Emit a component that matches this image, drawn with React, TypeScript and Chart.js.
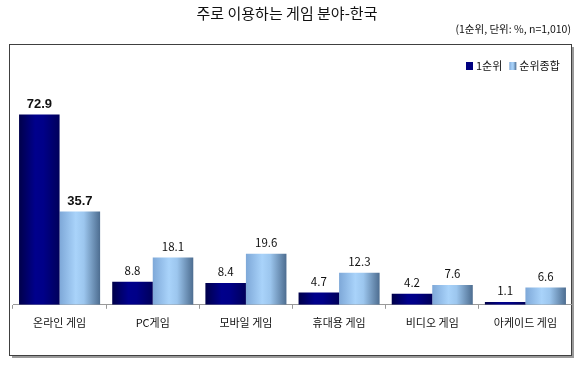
import React, { useEffect, useRef } from "react";
import { Chart, registerables } from "chart.js";

Chart.register(...registerables);

const titleText = "주로 이용하는 게임 분야-한국";
const noteText = "(1순위, 단위: %, n=1,010)";
const categories = ["온라인 게임", "PC게임", "모바일 게임", "휴대용 게임", "비디오 게임", "아케이드 게임"];
const seriesNames = ["1순위", "순위종합"];
const firstRank = [72.9, 8.8, 8.4, 4.7, 4.2, 1.1];
const overallRank = [35.7, 18.1, 19.6, 12.3, 7.6, 6.6];

const FONT = '"Noto Sans CJK KR", "Noto Sans", sans-serif';
const CAT_PCT = 0.87;

function gradFor(ctx: CanvasRenderingContext2D, x0: number, x1: number, dark: boolean) {
  const g = ctx.createLinearGradient(x0, 0, x1, 0);
  if (dark) {
    g.addColorStop(0, "#00004a");
    g.addColorStop(0.4, "#00008c");
    g.addColorStop(0.6, "#000088");
    g.addColorStop(1, "#00005a");
  } else {
    g.addColorStop(0, "#7ea8d8");
    g.addColorStop(0.4, "#a9d3fa");
    g.addColorStop(0.6, "#9cc6ee");
    g.addColorStop(1, "#4d6d90");
  }
  return g;
}

function barFill(c: any) {
  const chart = c.chart;
  const dark = c.datasetIndex === 0;
  const xs = chart.scales && chart.scales.x;
  if (!xs || !chart.chartArea || c.dataIndex == null) return dark ? "#000080" : "#8fbbe6";
  const catW = xs.width / categories.length;
  const groupW = catW * CAT_PCT;
  const barW = groupW / 2;
  const center = xs.getPixelForValue(c.dataIndex);
  const x0 = center - groupW / 2 + c.datasetIndex * barW;
  return gradFor(chart.ctx, x0, x0 + barW, dark);
}

const decorPlugin = {
  id: "decor",
  beforeDraw(chart: any) {
    const ctx = chart.ctx as CanvasRenderingContext2D;
    ctx.save();
    ctx.fillStyle = "#ffffff";
    ctx.fillRect(0, 0, chart.width, chart.height);
    // shadow
    ctx.fillStyle = "#9a9a9a";
    ctx.fillRect(12, 356, 562, 2);
    ctx.fillRect(572, 47, 2, 311);
    // frame
    ctx.strokeStyle = "#404040";
    ctx.lineWidth = 1;
    ctx.strokeRect(9.5, 44.5, 562, 311);
    // title
    ctx.fillStyle = "#111";
    ctx.font = `15px ${FONT}`;
    ctx.textAlign = "center";
    ctx.textBaseline = "middle";
    ctx.fillText(titleText, 287, 13);
    ctx.font = `10.5px ${FONT}`;
    ctx.textAlign = "right";
    ctx.fillText(noteText, 571, 29);
    // legend
    ctx.font = `11px ${FONT}`;
    ctx.textAlign = "left";
    let x = 466;
    const y = 66;
    seriesNames.forEach((n, i) => {
      ctx.fillStyle = i === 0 ? "#000080" : gradFor(ctx, x, x + 7, false);
      ctx.fillRect(x, y - 4, 7, 8);
      ctx.fillStyle = "#111";
      ctx.fillText(n, x + 10, y);
      x += 10 + ctx.measureText(n).width + 7;
    });
    ctx.restore();
  },
  afterDatasetsDraw(chart: any) {
    const ctx = chart.ctx as CanvasRenderingContext2D;
    ctx.save();
    ctx.fillStyle = "#111";
    ctx.textAlign = "center";
    ctx.textBaseline = "alphabetic";
    chart.data.datasets.forEach((ds: any, di: number) => {
      const meta = chart.getDatasetMeta(di);
      meta.data.forEach((el: any, i: number) => {
        const v = ds.data[i];
        ctx.font = i === 0 ? `bold 13px "Liberation Sans", Arial, sans-serif` : `11.5px ${FONT}`;
        ctx.fillText(v.toFixed(1), el.x, el.y - 7);
      });
    });
    ctx.restore();
  },
};

export default function App() {
  const ref = useRef<HTMLCanvasElement | null>(null);
  useEffect(() => {
    document.body.style.margin = "0";
    const canvas = ref.current!;
    const chart = new Chart(canvas, {
      type: "bar",
      data: {
        labels: categories,
        datasets: [
          { label: seriesNames[0], data: firstRank, backgroundColor: barFill, borderWidth: 0 },
          { label: seriesNames[1], data: overallRank, backgroundColor: barFill, borderWidth: 0 },
        ],
      },
      options: {
        responsive: false,
        animation: false,
        maintainAspectRatio: false,
        layout: { padding: { left: 13, right: 8, top: 96, bottom: 30 } },
        plugins: { legend: { display: false }, title: { display: false }, tooltip: { enabled: false } },
        datasets: { bar: { categoryPercentage: CAT_PCT, barPercentage: 1 } },
        scales: {
          x: {
            grid: { display: true, drawOnChartArea: false, drawTicks: true, tickLength: 4, color: "#999", offset: true },
            border: { display: true, color: "#999" },
            ticks: { color: "#111", font: { family: FONT, size: 11 }, padding: 7, maxRotation: 0 },
          },
          y: {
            display: false,
            min: 0,
            max: 80,
          },
        },
      },
      plugins: [decorPlugin],
    });
    return () => chart.destroy();
  }, []);
  return (
    <div style={{ width: 580, height: 366 }}>
      <canvas ref={ref} width={580} height={366} style={{ display: "block", width: 580, height: 366 }} />
    </div>
  );
}
